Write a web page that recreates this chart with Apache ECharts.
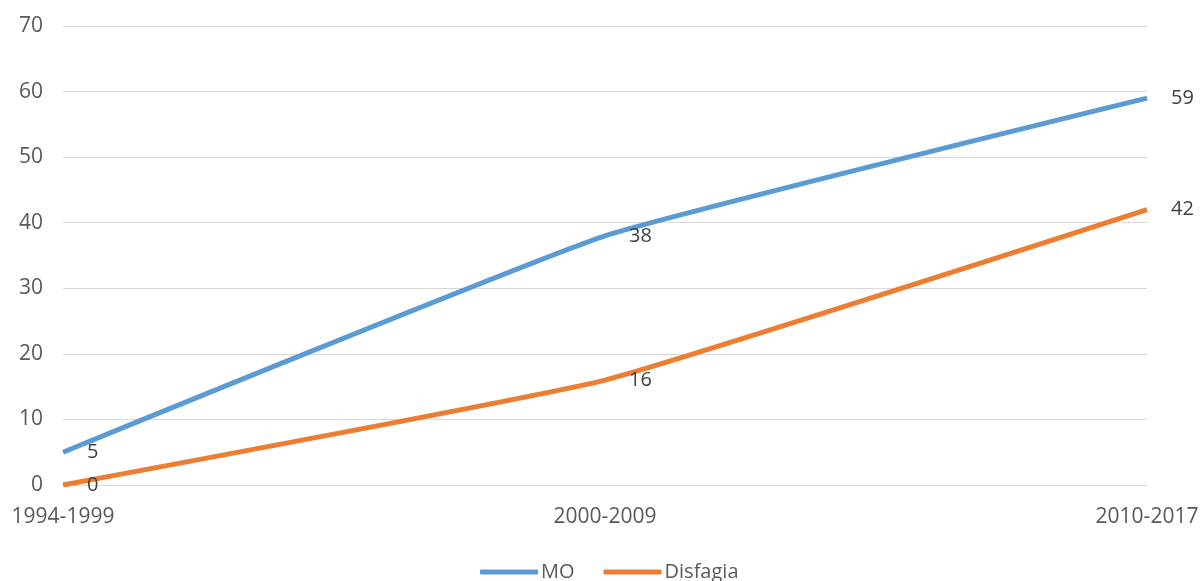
<!DOCTYPE html>
<html>
<head>
<meta charset="utf-8">
<script src="https://cdn.jsdelivr.net/npm/echarts@6/dist/echarts.min.js"></script>
<style>
  html, body { margin: 0; padding: 0; background: #fff; }
  #chart { width: 1203px; height: 581px; }
</style>
</head>
<body>
<div id="chart"></div>
<script>
  // periodos y series
  const periods = ['1994-1999', '2000-2009', '2010-2017'];
  const moValues = [5, 38, 59];
  const disfagiaValues = [0, 16, 42];
  const yTicks = [0, 10, 20, 30, 40, 50, 60, 70];

  const fontFamily = '"Open Sans", "Noto Sans", sans-serif';
  const myChart = echarts.init(document.getElementById('chart'));

  function lineSeries(name, values, color) {
    return {
      name: name,
      type: 'line',
      smooth: 0.12,
      symbol: 'circle',
      symbolSize: 0.1,
      showSymbol: true,
      lineStyle: { color: color, width: 5 },
      itemStyle: { color: color },
      label: {
        show: true,
        position: 'right',
        distance: 24,
        color: '#404040',
        fontSize: 20,
        fontFamily: fontFamily
      },
      data: values
    };
  }

  const option = {
    animation: false,
    grid: { left: 63, right: 56, top: 26, bottom: 96 },
    legend: {
      top: 561,
      left: 480,
      padding: 0,
      icon: 'roundRect',
      itemWidth: 58,
      itemHeight: 5,
      itemGap: 29,
      textStyle: { color: '#595959', fontSize: 20, lineHeight: 22, fontFamily: fontFamily, padding: [0, 0, 0, -2] },
      data: ['MO', 'Disfagia']
    },
    xAxis: {
      type: 'category',
      boundaryGap: false,
      data: periods,
      axisLine: { lineStyle: { color: '#d9d9d9', width: 1 } },
      axisTick: { show: false },
      axisLabel: { color: '#595959', fontSize: 21, fontFamily: fontFamily, margin: 22 }
    },
    yAxis: {
      type: 'value',
      min: yTicks[0],
      max: yTicks[yTicks.length - 1],
      interval: 10,
      axisLine: { show: false },
      axisTick: { show: false },
      axisLabel: { color: '#595959', fontSize: 21, fontFamily: fontFamily, margin: 20 },
      splitLine: { lineStyle: { color: '#d9d9d9', width: 1 } }
    },
    series: [
      lineSeries('MO', moValues, '#5b9bd5'),
      lineSeries('Disfagia', disfagiaValues, '#ed7d31')
    ]
  };
  myChart.setOption(option);
</script>
</body>
</html>
